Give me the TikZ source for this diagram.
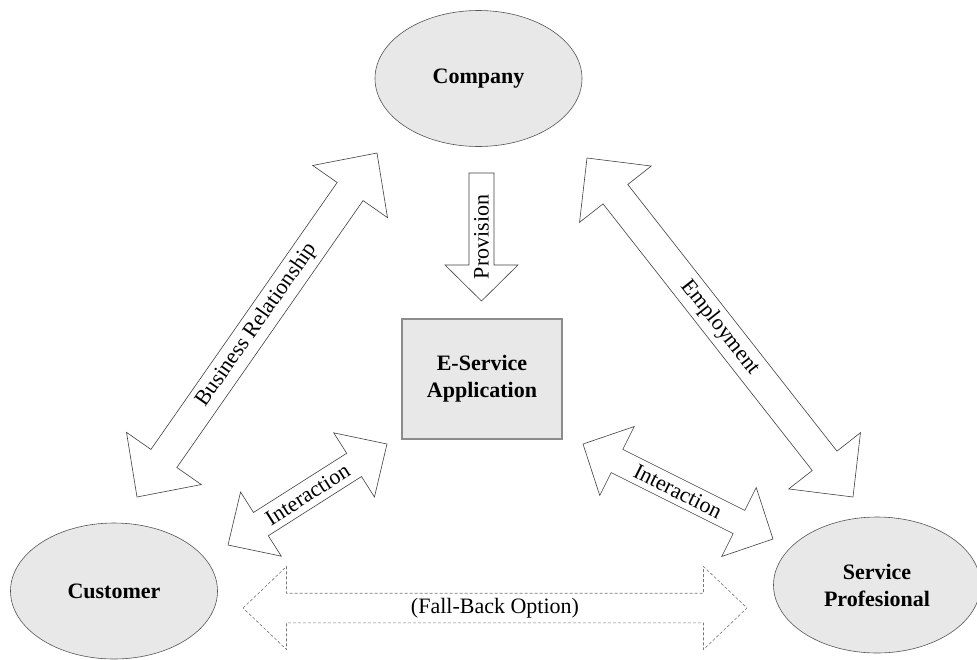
\documentclass[tikz,border=0pt]{standalone}
\usepackage{fontspec}
\setmainfont{Liberation Serif}
\usetikzlibrary{calc,shapes.geometric}

\definecolor{fillgrey}{HTML}{E8E8E8}
\definecolor{edgegrey}{HTML}{555555}
\definecolor{boxedge}{HTML}{8C8C8C}
\definecolor{dashgrey}{HTML}{777777}

% Double-headed block arrow between two tips.
% #1 name, #2 style, #3 first tip, #4 second tip,
% #5 head length, #6 head half-width, #7 shaft half-width
\newcommand\blockdouble[7]{%
  \coordinate (#1-a) at ($(#3)!#5!(#4)$);
  \coordinate (#1-b) at ($(#4)!#5!(#3)$);
  \draw[#2] (#3)
    -- ($(#1-a)!#6!90:(#4)$) -- ($(#1-a)!#7!90:(#4)$)
    -- ($(#1-b)!#7!-90:(#3)$) -- ($(#1-b)!#6!-90:(#3)$)
    -- (#4)
    -- ($(#1-b)!#6!90:(#3)$) -- ($(#1-b)!#7!90:(#3)$)
    -- ($(#1-a)!#7!-90:(#4)$) -- ($(#1-a)!#6!-90:(#4)$)
    -- cycle;
}
% Single-headed block arrow from a flat tail to a tip.
\newcommand\blocksingle[7]{%
  \coordinate (#1-b) at ($(#4)!#5!(#3)$);
  \draw[#2] ($(#3)!#7!90:(#4)$)
    -- ($(#1-b)!#7!-90:(#3)$) -- ($(#1-b)!#6!-90:(#3)$)
    -- (#4)
    -- ($(#1-b)!#6!90:(#3)$) -- ($(#1-b)!#7!90:(#3)$)
    -- ($(#3)!#7!-90:(#4)$)
    -- cycle;
}

\begin{document}
\begin{tikzpicture}[x=1pt,y=-1pt,
  party/.style={ellipse, draw=edgegrey, line width=0.6pt, fill=fillgrey,
    minimum width=207pt, minimum height=136pt, inner sep=0pt,
    align=center, font=\fontsize{22}{27}\selectfont\bfseries},
  appbox/.style={rectangle, draw=boxedge, line width=1.3pt, fill=fillgrey,
    minimum width=160pt, minimum height=120pt, inner sep=0pt,
    align=center, font=\fontsize{22}{27}\selectfont\bfseries},
  outline/.style={draw=black!75, line width=0.6pt, fill=white, line join=miter},
  fallback/.style={draw=dashgrey, line width=0.6pt, dash pattern=on 3pt off 2pt},
  lbl/.style={font=\fontsize{22}{26}\selectfont, inner sep=0pt}]

\useasboundingbox (0,0) rectangle (977,659);

% Parties and the application
\node[party] (company) at (478.5,78.5) {Company};
\node[party] (customer) at (114,591) {Customer};
\node[party] (pro) at (877,585) {Service\\Profesional};
\node[appbox] (app) at (482,379) {E-Service\\Application};

% Arrow end points
\coordinate (br1) at (137,497);   \coordinate (br2) at (377,153);
\coordinate (em1) at (587,158);   \coordinate (em2) at (853,497);
\coordinate (il1) at (228,545);   \coordinate (il2) at (387,444);
\coordinate (ir1) at (583,444);   \coordinate (ir2) at (773,539);
\coordinate (fb1) at (243,608);   \coordinate (fb2) at (747,608);
\coordinate (pv1) at (481.5,173); \coordinate (pv2) at (481.5,301);

% Customer <-> Company
\blockdouble{bus}{outline}{br1}{br2}{47pt}{45.6pt}{15.8pt}
\path (br1) -- node[lbl, sloped] {Business Relationship} (br2);

% Company <-> Service Profesional
\blockdouble{emp}{outline}{em1}{em2}{46pt}{45.6pt}{15.7pt}
\path (em1) -- node[lbl, sloped] {Employment} (em2);

% Customer <-> application
\blockdouble{intl}{outline}{il1}{il2}{39pt}{38pt}{13.8pt}
\path (il1) -- node[lbl, sloped] {Interaction} (il2);

% Application <-> Service Profesional
\blockdouble{intr}{outline}{ir1}{ir2}{38pt}{38.5pt}{13pt}
\path (ir1) -- node[lbl, sloped] {Interaction} (ir2);

% Company -> application
\blocksingle{prov}{outline}{pv1}{pv2}{36pt}{36.5pt}{12.5pt}
\path (pv1) -- node[lbl, rotate=90] {Provision} (pv2);

% Customer <-> Service Profesional, dashed
\blockdouble{fall}{fallback}{fb1}{fb2}{43.5pt}{41.5pt}{14.8pt}
\path (fb1) -- node[lbl] {(Fall-Back Option)} (fb2);

\end{tikzpicture}
\end{document}
